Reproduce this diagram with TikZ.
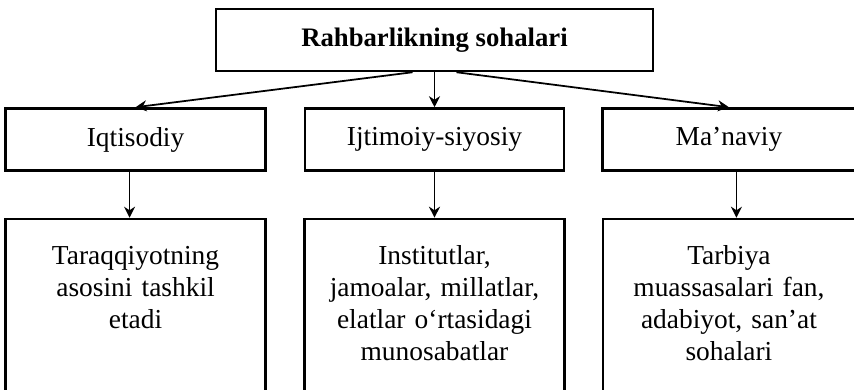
\documentclass[tikz,border=0pt]{standalone}
\usepackage{fontspec}
\setmainfont{Liberation Serif}
\usetikzlibrary{positioning,arrows.meta}

\begin{document}
\begin{tikzpicture}[->,>={Stealth[length=2.2mm,width=2.2mm]},line width=1pt,node distance=0.7cm,
  box/.style={draw,line width=1.4pt,minimum height=1.24cm,inner sep=0pt,font=\fontsize{15.6}{18.8}\selectfont},
  textbox/.style={draw,line width=1.4pt,inner sep=0pt,align=center,text height=0.92cm,text depth=4cm,font=\fontsize{15.6}{18.2}\selectfont}]
  \useasboundingbox (0,0) rectangle (17.08,-7.78);
  \node[box,minimum width=8.74cm,font=\fontsize{15.2}{18}\selectfont\bfseries] (top) at (8.69,-0.8) {Rahbarlikning sohalari};
  \node[box,minimum width=5.18cm] (ijt) [below=0.7cm of top] {Ijtimoiy-siyosiy};
  \node[box,minimum width=5.2cm]  (iqt) [left=0.74cm of ijt] {Iqtisodiy};
  \node[box,minimum width=5.06cm] (man) [right=0.72cm of ijt] {Ma’naviy};

  \node[textbox,text width=5.2cm]  (iqtb) [below=0.92cm of iqt] {Taraqqiyotning\\ asosini tashkil\\ etadi};
  \node[textbox,text width=5.2cm]  (ijtb) [below=0.92cm of ijt] {Institutlar,\\ jamoalar, millatlar,\\ elatlar o‘rtasidagi\\ munosabatlar};
  \node[textbox,text width=5.04cm] (manb) [below=0.92cm of man] {Tarbiya\\ muassasalari fan,\\ adabiyot, san’at\\ sohalari};

  \draw ([xshift=-4.4mm]top.south) -- (iqt.north);
  \draw (top.south) -- (ijt.north);
  \draw ([xshift=4.4mm]top.south) -- (man.north);
  \draw ([xshift=-1.2mm]iqt.south) -- ([xshift=-1.2mm]iqtb.north);
  \draw (ijt.south) -- (ijtb.north);
  \draw ([xshift=1.5mm]man.south) -- ([xshift=1.5mm]manb.north);
\end{tikzpicture}
\end{document}
